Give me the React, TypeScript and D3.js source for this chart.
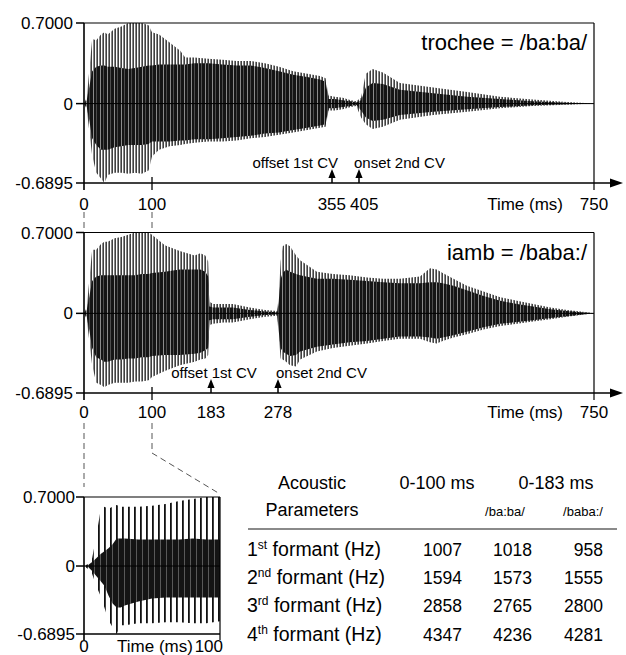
import React from 'react';
import * as d3 from 'd3';

// ---------- data ----------
const yTickValues = [0.7, 0, -0.6895];
const yTickLabels = ['0.7000', '0', '-0.6895'];

// trochee = /ba:ba/ envelope (ms, amplitude)
const trocheeTime = [0, 4, 8, 12, 18, 25, 30, 35, 45, 55, 65, 75, 85, 95, 100, 110, 125, 140, 147, 160, 180, 200, 220, 240, 260, 280, 300, 320, 338, 346, 350, 360, 375, 390, 400, 408, 415, 425, 440, 465, 514, 564, 612, 660, 710, 750];
const trocheePeakHi = [0, 0.05, 0.3, 0.56, 0.55, 0.6, 0.62, 0.6, 0.65, 0.67, 0.7, 0.7, 0.7, 0.68, 0.62, 0.6, 0.53, 0.46, 0.4, 0.4, 0.39, 0.38, 0.37, 0.37, 0.35, 0.32, 0.28, 0.26, 0.24, 0.22, 0.07, 0.06, 0.05, 0.03, 0.02, 0.05, 0.26, 0.3, 0.27, 0.18, 0.14, 0.1, 0.06, 0.035, 0.015, 0];
const trocheePeakLo = [0, -0.05, -0.25, -0.45, -0.6, -0.65, -0.69, -0.62, -0.6, -0.6, -0.61, -0.6, -0.61, -0.58, -0.46, -0.4, -0.37, -0.36, -0.35, -0.34, -0.33, -0.33, -0.32, -0.3, -0.29, -0.27, -0.25, -0.23, -0.21, -0.2, -0.06, -0.06, -0.05, -0.03, -0.02, -0.12, -0.18, -0.22, -0.2, -0.14, -0.1, -0.07, -0.04, -0.02, -0.01, 0];
const trocheeCoreHi = [0, 0.03, 0.15, 0.28, 0.32, 0.33, 0.33, 0.32, 0.32, 0.31, 0.3, 0.31, 0.32, 0.33, 0.33, 0.34, 0.34, 0.34, 0.34, 0.35, 0.35, 0.34, 0.33, 0.33, 0.31, 0.28, 0.25, 0.23, 0.21, 0.19, 0.04, 0.04, 0.03, 0.02, 0.01, 0.03, 0.14, 0.18, 0.17, 0.12, 0.09, 0.06, 0.04, 0.02, 0.008, 0];
const trocheeCoreLo = [0, -0.03, -0.15, -0.3, -0.36, -0.4, -0.4, -0.4, -0.38, -0.37, -0.36, -0.36, -0.36, -0.35, -0.33, -0.33, -0.33, -0.32, -0.32, -0.31, -0.31, -0.3, -0.29, -0.28, -0.26, -0.25, -0.23, -0.21, -0.19, -0.18, -0.04, -0.04, -0.03, -0.02, -0.01, -0.06, -0.12, -0.15, -0.14, -0.1, -0.07, -0.05, -0.03, -0.015, -0.006, 0];

// iamb = /baba:/ envelope
const iambTime = [0, 4, 8, 12, 18, 25, 30, 35, 45, 55, 65, 75, 85, 95, 100, 118, 139, 160, 168, 175, 179, 181, 186, 200, 214, 238, 260, 277, 279, 282, 285, 290, 296, 305, 311, 336, 360, 385, 411, 435, 460, 490, 505, 515, 524, 540, 560, 585, 610, 635, 659, 685, 710, 730, 750];
const iambPeakHi = [0, 0.05, 0.3, 0.55, 0.55, 0.6, 0.62, 0.62, 0.65, 0.66, 0.68, 0.7, 0.7, 0.7, 0.68, 0.59, 0.54, 0.5, 0.52, 0.5, 0.45, 0.1, 0.08, 0.08, 0.08, 0.05, 0.03, 0.02, 0.15, 0.45, 0.58, 0.6, 0.58, 0.5, 0.46, 0.36, 0.34, 0.33, 0.31, 0.3, 0.3, 0.32, 0.39, 0.38, 0.35, 0.3, 0.24, 0.19, 0.14, 0.11, 0.08, 0.05, 0.03, 0.015, 0];
const iambPeakLo = [0, -0.05, -0.25, -0.45, -0.6, -0.62, -0.64, -0.62, -0.6, -0.6, -0.6, -0.59, -0.59, -0.58, -0.55, -0.5, -0.45, -0.42, -0.4, -0.39, -0.36, -0.1, -0.09, -0.08, -0.08, -0.05, -0.03, -0.02, -0.2, -0.39, -0.4, -0.42, -0.45, -0.46, -0.4, -0.33, -0.3, -0.28, -0.26, -0.24, -0.22, -0.22, -0.25, -0.26, -0.24, -0.21, -0.18, -0.14, -0.11, -0.09, -0.07, -0.05, -0.03, -0.015, 0];
const iambCoreHi = [0, 0.03, 0.15, 0.28, 0.32, 0.33, 0.33, 0.33, 0.33, 0.33, 0.33, 0.33, 0.34, 0.34, 0.35, 0.36, 0.38, 0.38, 0.38, 0.36, 0.32, 0.06, 0.05, 0.05, 0.05, 0.03, 0.015, 0.01, 0.1, 0.3, 0.35, 0.38, 0.36, 0.34, 0.33, 0.3, 0.3, 0.29, 0.28, 0.27, 0.26, 0.26, 0.27, 0.27, 0.26, 0.24, 0.2, 0.15, 0.11, 0.08, 0.06, 0.035, 0.02, 0.01, 0];
const iambCoreLo = [0, -0.03, -0.15, -0.3, -0.38, -0.4, -0.42, -0.42, -0.4, -0.4, -0.39, -0.39, -0.38, -0.38, -0.37, -0.36, -0.36, -0.35, -0.34, -0.32, -0.3, -0.06, -0.05, -0.05, -0.05, -0.03, -0.015, -0.01, -0.15, -0.3, -0.33, -0.35, -0.37, -0.36, -0.33, -0.29, -0.27, -0.25, -0.24, -0.22, -0.2, -0.2, -0.21, -0.22, -0.21, -0.19, -0.16, -0.12, -0.09, -0.075, -0.06, -0.04, -0.025, -0.012, 0];

// inset, 0-100 ms
const insetTime = [0, 3, 6, 9, 12, 15, 18, 21, 24, 27, 30, 40, 50, 60, 70, 80, 90, 100];
const insetPeakHi = [0, 0.02, 0.08, 0.3, 0.55, 0.6, 0.58, 0.6, 0.62, 0.6, 0.6, 0.6, 0.61, 0.63, 0.66, 0.68, 0.7, 0.7];
const insetPeakLo = [0, -0.03, -0.08, -0.2, -0.3, -0.42, -0.55, -0.62, -0.69, -0.6, -0.6, -0.58, -0.58, -0.57, -0.57, -0.58, -0.58, -0.56];
const insetCoreHi = [0, 0.01, 0.04, 0.08, 0.12, 0.15, 0.18, 0.22, 0.28, 0.28, 0.28, 0.27, 0.27, 0.27, 0.27, 0.28, 0.27, 0.27];
const insetCoreLo = [0, -0.01, -0.05, -0.1, -0.15, -0.2, -0.3, -0.38, -0.42, -0.42, -0.4, -0.36, -0.33, -0.32, -0.32, -0.32, -0.32, -0.32];

const trocheeTicks = [0, 100, 355, 405, 750];
const iambTicks = [0, 100, 183, 278, 750];
const trocheeMarks = [355, 405];
const iambMarks = [183, 278];
const markLabels = ['offset 1st CV', 'onset 2nd CV'];

const tableHead1 = ['Acoustic', '0-100 ms', '0-183 ms'];
const tableHead2 = ['Parameters', '/ba:ba/', '/baba:/'];
const paramNum = ['1', '2', '3', '4'];
const paramSup = ['st', 'nd', 'rd', 'th'];
const col0to100 = [1007, 1594, 2858, 4347];
const colTrochee = [1018, 1573, 2765, 4236];
const colIamb = [958, 1555, 2800, 4281];

// ---------- layout ----------
const FONT = '"Liberation Sans", Arial, Helvetica, sans-serif';
const X0 = 84;
const XR = 594;

function Waveform({ x, y, t, ph, pl, ch, cl, pat, corePat }) {
  const rows = t.map((tt, i) => ({ t: tt, ph: ph[i], pl: pl[i], ch: ch[i], cl: cl[i] }));
  const outer = d3.area().x((d) => x(d.t)).y0((d) => y(d.pl)).y1((d) => y(d.ph))(rows);
  const core = d3.area().x((d) => x(d.t)).y0((d) => y(d.cl)).y1((d) => y(d.ch))(rows);
  return (
    <g>
      <path d={outer} fill={`url(#${pat})`} />
      <path d={core} fill={`url(#${corePat})`} />
    </g>
  );
}

function YAxis({ y, labelX, tickLen }) {
  return (
    <g>
      {yTickValues.map((v, i) => (
        <g key={i}>
          <line x1={X0 - tickLen} x2={X0} y1={y(v)} y2={y(v)} stroke="#000" strokeWidth={1.5} />
          <text x={labelX} y={y(v)} dy="0.36em" textAnchor="end" fontSize={17} fontFamily={FONT}>
            {yTickLabels[i]}
          </text>
        </g>
      ))}
    </g>
  );
}

function Panel({ top, bottom, ticks, tickPx, data, title, marks, labelPlace, tipOffset, labelY, annY }) {
  const x = d3.scaleLinear().domain(ticks).range(tickPx);
  const y = d3.scaleLinear().domain([-0.6895, 0.7]).range([bottom, top]);
  const ax = bottom;
  return (
    <g>
      <Waveform x={x} y={y} t={data[0]} ph={data[1]} pl={data[2]} ch={data[3]} cl={data[4]} pat="spk" corePat="core" />
      <line x1={X0} x2={XR} y1={y(0)} y2={y(0)} stroke="#000" strokeWidth={1} />
      <line x1={X0} x2={XR} y1={top} y2={top} stroke="#000" strokeWidth={1.2} />
      <line x1={XR} x2={XR} y1={top} y2={ax + 7} stroke="#000" strokeWidth={1.2} />
      <line x1={X0} x2={X0} y1={top} y2={ax + 7} stroke="#000" strokeWidth={1.6} />
      <line x1={X0} x2={612} y1={ax} y2={ax} stroke="#000" strokeWidth={1.6} />
      <polygon points={`610,${ax - 4.5} 623,${ax} 610,${ax + 4.5}`} fill="#000" />
      <line x1={x(100)} x2={x(100)} y1={ax - 6} y2={ax + 7} stroke="#000" strokeWidth={1.3} />
      <YAxis y={y} labelX={73} tickLen={8} />
      <text x={587} y={top + 27} textAnchor="end" fontSize={22} fontFamily={FONT}>{title}</text>
      {marks.map((m, i) => {
        const mx = x(m);
        const tip = ax - tipOffset;
        return (
          <g key={m}>
            <line x1={mx} x2={mx} y1={ax} y2={tip + 6} stroke="#000" strokeWidth={1.5} />
            <polygon points={`${mx - 3.6},${tip + 9} ${mx},${tip} ${mx + 3.6},${tip + 9}`} fill="#000" />
            <text x={mx + labelPlace[i].dx} y={annY} textAnchor={labelPlace[i].anchor} fontSize={15} fontFamily={FONT}>
              {markLabels[i]}
            </text>
          </g>
        );
      })}
      {ticks.slice(0, 2).map((t) => (
        <text key={t} x={x(t)} y={labelY} textAnchor="middle" fontSize={17} fontFamily={FONT}>{t}</text>
      ))}
      {marks.map((m, i) => (
        <text key={'l' + m} x={x(m) + labelPlace[i].tdx} y={labelY} textAnchor={labelPlace[i].tanchor} fontSize={17} fontFamily={FONT}>{m}</text>
      ))}
      <text x={563} y={labelY} textAnchor="end" fontSize={17} fontFamily={FONT}>Time (ms)</text>
      <text x={XR} y={labelY} textAnchor="middle" fontSize={17} fontFamily={FONT}>{ticks[ticks.length - 1]}</text>
    </g>
  );
}

function Inset() {
  const left = 84, right = 220, top = 497, bottom = 634;
  const x = d3.scaleLinear().domain([0, 100]).range([left, right]);
  const y = d3.scaleLinear().domain([-0.6895, 0.7]).range([bottom, top]);
  return (
    <g>
      <Waveform x={x} y={y} t={insetTime} ph={insetPeakHi} pl={insetPeakLo} ch={insetCoreHi} cl={insetCoreLo} pat="spk2" corePat="core2" />
      <line x1={left} x2={right} y1={y(0)} y2={y(0)} stroke="#000" strokeWidth={1} />
      <line x1={left} x2={right} y1={top} y2={top} stroke="#000" strokeWidth={1.2} />
      <line x1={right} x2={right} y1={top} y2={bottom + 6} stroke="#000" strokeWidth={1.2} />
      <line x1={left} x2={left} y1={top} y2={bottom + 6} stroke="#000" strokeWidth={1.6} />
      <line x1={left} x2={right} y1={bottom} y2={bottom} stroke="#000" strokeWidth={1.6} />
      {yTickValues.map((v, i) => (
        <g key={i}>
          <line x1={left - 8} x2={left} y1={y(v)} y2={y(v)} stroke="#000" strokeWidth={1.5} />
          <text x={75} y={y(v)} dy="0.36em" textAnchor="end" fontSize={17} fontFamily={FONT}>{yTickLabels[i]}</text>
        </g>
      ))}
      <text x={x(0)} y={652} textAnchor="middle" fontSize={17} fontFamily={FONT}>0</text>
      <text x={155} y={652} textAnchor="middle" fontSize={17} fontFamily={FONT}>Time (ms)</text>
      <text x={x(100) + 3} y={652} textAnchor="end" fontSize={17} fontFamily={FONT}>100</text>
    </g>
  );
}

function Table() {
  const rowY = [556, 584, 612, 641];
  const colEnd = [462, 532, 603];
  const cols = [col0to100, colTrochee, colIamb];
  return (
    <g fontFamily={FONT} fill="#000">
      <text x={312} y={489} textAnchor="middle" fontSize={18}>{tableHead1[0]}</text>
      <text x={312} y={516} textAnchor="middle" fontSize={18}>{tableHead2[0]}</text>
      <text x={437} y={489} textAnchor="middle" fontSize={18}>{tableHead1[1]}</text>
      <text x={556} y={489} textAnchor="middle" fontSize={18}>{tableHead1[2]}</text>
      <text x={505} y={516} textAnchor="middle" fontSize={13}>{tableHead2[1]}</text>
      <text x={583} y={516} textAnchor="middle" fontSize={13}>{tableHead2[2]}</text>
      <line x1={248} x2={617} y1={529} y2={529} stroke="#8a8a8a" strokeWidth={2} />
      {paramNum.map((n, i) => (
        <g key={i}>
          <text x={247} y={rowY[i]} fontSize={19.5}>
            {n}
            <tspan fontSize={12} dy={-7}>{paramSup[i]}</tspan>
            <tspan dy={7}> formant (Hz)</tspan>
          </text>
          {cols.map((c, j) => (
            <text key={j} x={colEnd[j]} y={rowY[i]} textAnchor="end" fontSize={17.5}>{c[i]}</text>
          ))}
        </g>
      ))}
    </g>
  );
}

export default function App() {
  return (
    <svg
      width={626}
      height={655}
      viewBox="0 0 626 655"
      style={{ position: 'absolute', left: 0, top: 0, background: '#fff' }}
    >
      <defs>
        <pattern id="spk" width={3} height={10} patternUnits="userSpaceOnUse">
          <rect width={3} height={10} fill="#fff" />
          <rect x={0.5} width={1.3} height={10} fill="#111" />
        </pattern>
        <pattern id="core" width={7} height={10} patternUnits="userSpaceOnUse">
          <rect width={7} height={10} fill="#151515" />
          <rect x={2} width={1} height={10} fill="#8c8c8c" />
          <rect x={5} width={0.8} height={10} fill="#5a5a5a" />
        </pattern>
        <pattern id="spk2" width={6} height={10} patternUnits="userSpaceOnUse">
          <rect width={6} height={10} fill="#fff" />
          <rect x={2} width={1.8} height={10} fill="#111" />
        </pattern>
        <pattern id="core2" width={6} height={10} patternUnits="userSpaceOnUse">
          <rect width={6} height={10} fill="#141414" />
          <rect x={4} width={0.8} height={10} fill="#6a6a6a" />
        </pattern>
      </defs>
      <rect width={626} height={655} fill="#fff" />
      <Panel
        top={23}
        bottom={183}
        ticks={trocheeTicks}
        tickPx={[84, 152, 332, 359, 594]}
        data={[trocheeTime, trocheePeakHi, trocheePeakLo, trocheeCoreHi, trocheeCoreLo]}
        title="trochee = /ba:ba/"
        marks={trocheeMarks}
        labelPlace={[
          { dx: 6, anchor: 'end', tdx: 14, tanchor: 'end' },
          { dx: -5, anchor: 'start', tdx: -9, tanchor: 'start' },
        ]}
        tipOffset={14}
        labelY={210}
        annY={168}
      />
      <Panel
        top={232.5}
        bottom={393}
        ticks={iambTicks}
        tickPx={[84, 152, 211, 278, 594]}
        data={[iambTime, iambPeakHi, iambPeakLo, iambCoreHi, iambCoreLo]}
        title="iamb = /baba:/"
        marks={iambMarks}
        labelPlace={[
          { dx: 3, anchor: 'middle', tdx: 0, tanchor: 'middle' },
          { dx: -2, anchor: 'start', tdx: 0, tanchor: 'middle' },
        ]}
        tipOffset={14}
        labelY={418}
        annY={378}
      />
      <g stroke="#555" strokeWidth={1} strokeDasharray="6,4" fill="none">
        <line x1={84} x2={84} y1={212} y2={228} />
        <line x1={152} x2={152} y1={212} y2={228} />
        <line x1={84} x2={84} y1={423} y2={487} />
        <polyline points="152,423 152,453 220,494" />
      </g>
      <Inset />
      <Table />
    </svg>
  );
}
